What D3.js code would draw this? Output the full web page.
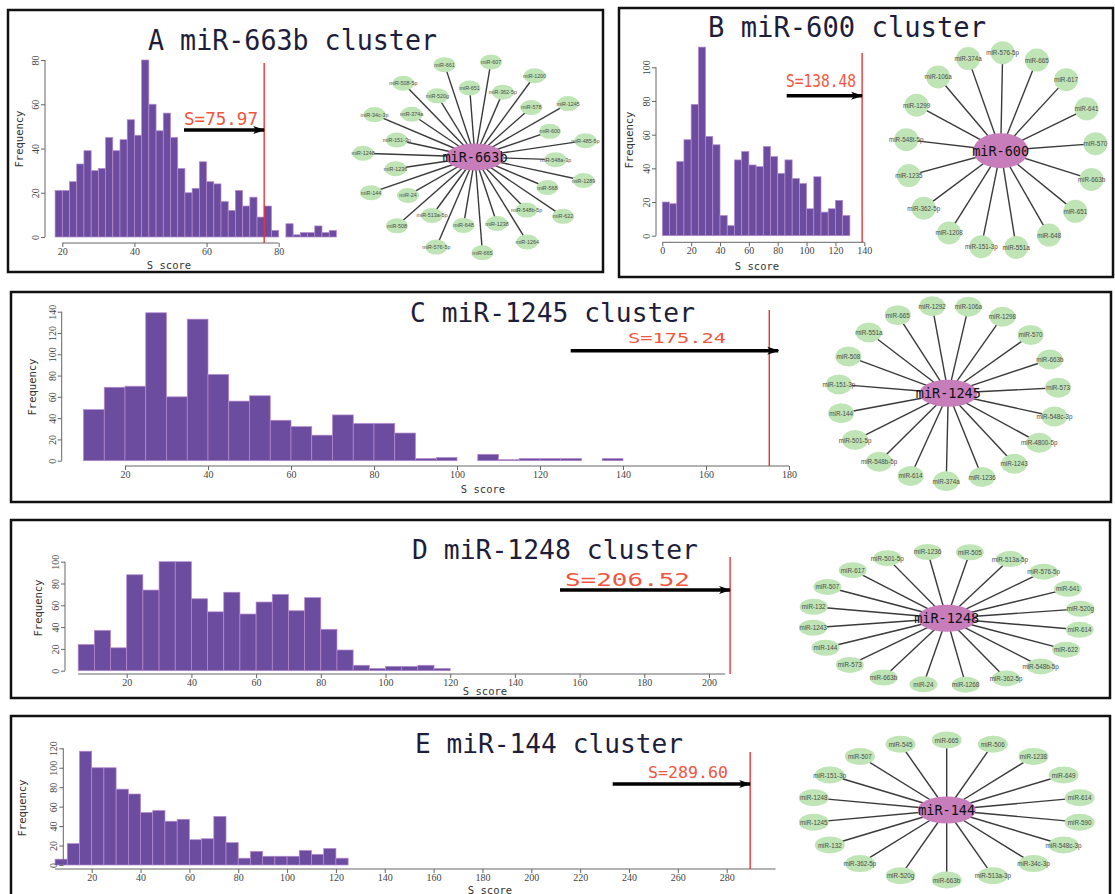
<!DOCTYPE html>
<html>
<head>
<meta charset="utf-8">
<script src="https://cdn.jsdelivr.net/npm/d3@7"></script>
<style>
  body { margin: 0; background: #fff; }
  svg { display: block; }
</style>
</head>
<body>
<div id="chart"></div>
<script>
// ---- data ----
// histogram counts, one value per bin
const countsA = [21, 21, 25, 33, 39, 30, 31, 45, 39, 44, 53, 46, 80, 60, 48, 56, 45, 31, 20, 22,
  34, 25, 24, 16, 12, 21, 14, 18, 9, 14, 3, 0, 6, 1, 2, 2, 5, 2, 3]
const countsB = [20, 19, 44, 57, 78, 112, 59, 54, 12, 6, 45, 50, 42, 41, 53, 47, 37, 45, 34, 31,
  16, 35, 14, 16, 21, 12]
const countsC = [48, 69, 70, 139, 60, 133, 81, 56, 61, 38, 32, 24, 43, 35, 35, 26, 2, 3, 0, 6,
  1, 2, 2, 2, 0, 2]
const countsD = [24, 37, 21, 88, 74, 100, 100, 66, 54, 72, 52, 63, 70, 55, 67, 38, 19, 5, 2, 4, 4, 5, 2]
const countsE = [6, 22, 117, 100, 100, 78, 73, 54, 56, 45, 47, 26, 27, 50, 23, 7, 14, 9, 9, 9, 15, 11, 17, 7]

// bin starts and widths
const binStarts = [18, 0, 10, 5, 5]
const binWidths = [2, 5, 5, 5, 5]

// observed S scores
const scores = [75.97, 138.48, 175.24, 206.52, 289.60]

// tick labels
const xTicksA = [20, 40, 60, 80]
const yTicksA = [0, 20, 40, 60, 80]
const xTicksB = [0, 20, 40, 60, 80, 100, 120, 140]
const yTicksB = [0, 20, 40, 60, 80, 100]
const xTicksC = [20, 40, 60, 80, 100, 120, 140, 160, 180]
const yTicksC = [0, 20, 40, 60, 80, 100, 120, 140]
const xTicksD = [20, 40, 60, 80, 100, 120, 140, 160, 180, 200]
const yTicksD = [0, 20, 40, 60, 80, 100]
const xTicksE = [20, 40, 60, 80, 100, 120, 140, 160, 180, 200, 220, 240, 260, 280]
const yTicksE = [0, 20, 40, 60, 80, 100, 120]

// cluster hubs and their partners (clockwise from the top)
const hubs = ['miR-663b', 'miR-600', 'miR-1245', 'miR-1248', 'miR-144']
const nodesA = ['miR-661', 'miR-651', 'miR-607', 'miR-362-5p', 'miR-1200', 'miR-578', 'miR-1245',
  'miR-600', 'miR-485-5p', 'miR-548a-3p', 'miR-1289', 'miR-568', 'miR-622', 'miR-548b-5p',
  'miR-1264', 'miR-1238', 'miR-665', 'miR-648', 'miR-576-5p', 'miR-513a-5p', 'miR-508',
  'miR-24', 'miR-144', 'miR-1236', 'miR-1248', 'miR-151-3p', 'miR-34c-3p', 'miR-374a',
  'miR-508-5p', 'miR-520g']
const nodesB = ['miR-374a', 'miR-576-5p', 'miR-665', 'miR-617', 'miR-641', 'miR-570', 'miR-663b',
  'miR-651', 'miR-648', 'miR-551a', 'miR-151-3p', 'miR-1208', 'miR-362-5p', 'miR-1235',
  'miR-548t-5p', 'miR-1299', 'miR-106a']
const nodesC = ['miR-1292', 'miR-106a', 'miR-1298', 'miR-570', 'miR-663b', 'miR-573', 'miR-548c-3p',
  'miR-4800-5p', 'miR-1243', 'miR-1236', 'miR-374a', 'miR-614', 'miR-548b-5p', 'miR-501-5p',
  'miR-144', 'miR-151-3p', 'miR-508', 'miR-551a', 'miR-665']
const nodesD = ['miR-505', 'miR-513a-5p', 'miR-576-5p', 'miR-641', 'miR-520g', 'miR-614', 'miR-622',
  'miR-548b-5p', 'miR-362-5p', 'miR-1268', 'miR-24', 'miR-663b', 'miR-573', 'miR-144',
  'miR-1243', 'miR-132', 'miR-507', 'miR-617', 'miR-501-5p', 'miR-1236']
const nodesE = ['miR-665', 'miR-506', 'miR-1238', 'miR-649', 'miR-614', 'miR-590', 'miR-548c-3p',
  'miR-34c-3p', 'miR-513a-3p', 'miR-663b', 'miR-520g', 'miR-362-5p', 'miR-132', 'miR-1245',
  'miR-1248', 'miR-151-3p', 'miR-507', 'miR-545']

// ---- layout ----
const W = 1115, H = 894
const barFill = '#6c4c9f'
const barEdge = '#b58bd0'
const red = '#e8262a'
const mono = '"DejaVu Sans Mono", monospace'

const panels = [
  { letter: 'A', counts: countsA, xTicks: xTicksA, yTicks: yTicksA, nodes: nodesA,
    frame: [8, 10, 595, 262],
    title: { x: 148, y: 50, len: 289, size: 28 },
    xDom: [20, 80], xRange: [62.3, 278.7], yDom: [0, 80], yRange: [237, 60],
    xAxisY: 243, yAxisX: 45, span: [20, 80],
    lineTop: 63, arrow: { x0: 184, y: 130, over: 0 }, lab: { x: 184, y: 125, size: 18, len: 74 },
    freq: [19, 139], score: [169, 269],
    net: { cx: 475, cy: 157, rx: 112, ry: 96, inner: 0.72, start: -15.8, nrx: 11, nry: 7.5, fs: 5.4 } },
  { letter: 'B', counts: countsB, xTicks: xTicksB, yTicks: yTicksB, nodes: nodesB,
    frame: [619, 8, 494, 269],
    title: { x: 708, y: 37, len: 278, size: 28 },
    xDom: [0, 140], xRange: [662.3, 864.3], yDom: [0, 100], yRange: [235.7, 67.3],
    xAxisY: 242.3, yAxisX: 656, span: [0, 140],
    lineTop: 53, arrow: { x0: 786.7, y: 95.7, over: 0 }, lab: { x: 786, y: 87, size: 17, len: 70 },
    freq: [629, 140], score: [757, 270],
    net: { cx: 1000.7, cy: 150.7, rx: 95, ry: 98, inner: 1, start: -20, nrx: 12, nry: 11.5, fs: 6.3 } },
  { letter: 'C', counts: countsC, xTicks: xTicksC, yTicks: yTicksC, nodes: nodesC,
    frame: [11, 292, 1100, 210],
    title: { x: 410, y: 322, len: 285, size: 27 },
    xDom: [20, 180], xRange: [125, 789], yDom: [0, 140], yRange: [460.7, 311.7],
    xAxisY: 466, yAxisX: 61.7, span: [20, 180],
    lineTop: 310, arrow: { x0: 570.7, y: 350.7, over: 9 }, lab: { x: 628, y: 343, size: 14, len: 98 },
    freq: [31.7, 387], score: [483, 493],
    net: { cx: 948.3, cy: 393.3, rx: 110, ry: 88, inner: 1, start: -8.4, nrx: 13, nry: 10, fs: 6.3 } },
  { letter: 'D', counts: countsD, xTicks: xTicksD, yTicks: yTicksD, nodes: nodesD,
    frame: [11, 520, 1099, 178],
    title: { x: 412, y: 559, len: 286, size: 27 },
    xDom: [20, 200], xRange: [126.7, 709], yDom: [0, 100], yRange: [670.7, 561.7],
    xAxisY: 674, yAxisX: 65, span: [5, 205],
    lineTop: 557, arrow: { x0: 560, y: 590, over: 0 }, lab: { x: 565, y: 586, size: 18, len: 125 },
    freq: [38, 608], score: [485, 695],
    net: { cx: 946.7, cy: 618.3, rx: 135, ry: 67, inner: 1, start: 9.9, nrx: 14, nry: 8, fs: 6.3 } },
  { letter: 'E', counts: countsE, xTicks: xTicksE, yTicks: yTicksE, nodes: nodesE,
    frame: [11, 716, 1099, 200],
    title: { x: 415, y: 753, len: 268, size: 27 },
    xDom: [20, 280], xRange: [91.7, 726.7], yDom: [0, 120], yRange: [865, 748.3],
    xAxisY: 869, yAxisX: 63.3, span: [5, 300],
    lineTop: 752, arrow: { x0: 612.7, y: 784, over: 0 }, lab: { x: 648, y: 778, size: 15, len: 80 },
    freq: [21.7, 808], score: [490, 893.5],
    net: { cx: 946.7, cy: 810, rx: 135, ry: 70, inner: 1, start: 0, nrx: 15, nry: 8.5, fs: 6.3 } },
]

const svg = d3.select('#chart').append('svg')
  .attr('width', W)
  .attr('height', H)

svg.append('rect').attr('width', W).attr('height', H).attr('fill', '#fff')

const defs = svg.append('defs')
defs.append('marker')
  .attr('id', 'arrow')
  .attr('markerUnits', 'userSpaceOnUse')
  .attr('viewBox', '0 0 12 10')
  .attr('refX', 11).attr('refY', 5)
  .attr('markerWidth', 12).attr('markerHeight', 10)
  .attr('orient', 'auto')
  .append('path')
  .attr('d', 'M0,1 L12,5 L0,9 L3,5 Z')
  .attr('fill', '#000')

function drawHist(g, p, i) {
  const x = d3.scaleLinear().domain(p.xDom).range(p.xRange)
  const y = d3.scaleLinear().domain(p.yDom).range(p.yRange)
  const start = binStarts[i], width = binWidths[i]
  const bins = p.counts.map((c, k) => ({ x0: start + k * width, x1: start + (k + 1) * width, c }))
    .filter(d => d.c > 0)

  g.append('g').selectAll('rect')
    .data(bins)
    .enter()
    .append('rect')
    .attr('x', d => x(d.x0))
    .attr('width', d => x(d.x1) - x(d.x0))
    .attr('y', d => y(d.c))
    .attr('height', d => y(0) - y(d.c))
    .attr('fill', barFill)
    .attr('stroke', barEdge)
    .attr('stroke-width', 0.7)

  // x axis, R style
  const xAxis = g.append('g')
    .attr('transform', `translate(0, ${p.xAxisY})`)
    .call(d3.axisBottom(x).tickValues(p.xTicks).tickSize(4).tickSizeOuter(0))
  xAxis.select('.domain').remove()
  xAxis.append('line')
    .attr('x1', x(p.span[0])).attr('x2', x(p.span[1]))
    .attr('stroke', '#666')
  xAxis.selectAll('.tick line').attr('stroke', '#666')
  xAxis.selectAll('.tick text')
    .attr('font-family', '"Liberation Serif", serif')
    .attr('font-size', 10)
    .attr('fill', '#444')
    .attr('y', 5)

  // y axis, rotated labels
  const yAxis = g.append('g')
    .attr('transform', `translate(${p.yAxisX}, 0)`)
    .call(d3.axisLeft(y).tickValues(p.yTicks).tickSize(4).tickSizeOuter(0))
  yAxis.select('.domain').remove()
  yAxis.append('line')
    .attr('y1', y(p.yTicks[0])).attr('y2', y(p.yTicks[p.yTicks.length - 1]))
    .attr('stroke', '#666')
  yAxis.selectAll('.tick line').attr('stroke', '#666')
  yAxis.selectAll('.tick text')
    .attr('font-family', '"Liberation Serif", serif')
    .attr('font-size', 10)
    .attr('fill', '#444')
    .attr('text-anchor', 'middle')
    .attr('transform', 'rotate(-90)')
    .attr('x', 0)
    .attr('y', -6)
    .attr('dy', 0)

  g.append('text')
    .attr('transform', `translate(${p.freq[0]}, ${p.freq[1]}) rotate(-90)`)
    .attr('text-anchor', 'middle')
    .attr('dominant-baseline', 'central')
    .attr('font-family', mono)
    .attr('font-size', 10.5)
    .attr('fill', '#333')
    .text('Frequency')

  g.append('text')
    .attr('x', p.score[0]).attr('y', p.score[1])
    .attr('text-anchor', 'middle')
    .attr('font-family', mono)
    .attr('font-size', 10.5)
    .attr('fill', '#333')
    .text('S score')

  // observed score
  const s = scores[i]
  g.append('line')
    .attr('x1', x(s)).attr('x2', x(s))
    .attr('y1', p.lineTop).attr('y2', p.xAxisY)
    .attr('stroke', red)
    .attr('stroke-width', 1.3)

  g.append('line')
    .attr('x1', p.arrow.x0).attr('x2', x(s) + p.arrow.over)
    .attr('y1', p.arrow.y).attr('y2', p.arrow.y)
    .attr('stroke', '#000')
    .attr('stroke-width', 3.5)
    .attr('marker-end', 'url(#arrow)')

  g.append('text')
    .attr('x', p.lab.x).attr('y', p.lab.y)
    .attr('font-family', mono)
    .attr('font-size', p.lab.size)
    .attr('fill', '#f2553e')
    .attr('textLength', p.lab.len)
    .attr('lengthAdjust', 'spacingAndGlyphs')
    .text('S=' + s.toFixed(2))
}

function drawNet(g, p, i) {
  const n = p.net
  const names = p.nodes
  const angle = d3.scalePoint()
    .domain(names)
    .range([n.start, n.start + 360 * (names.length - 1) / names.length])
  const pts = names.map((name, k) => {
    const t = angle(name) * Math.PI / 180
    const f = k % 2 ? n.inner : 1
    return { name, x: n.cx + n.rx * f * Math.sin(t), y: n.cy - n.ry * f * Math.cos(t) }
  })

  g.append('g').selectAll('line')
    .data(pts)
    .enter()
    .append('line')
    .attr('x1', n.cx).attr('y1', n.cy)
    .attr('x2', d => d.x).attr('y2', d => d.y)
    .attr('stroke', '#3a3a3a')
    .attr('stroke-width', 1.4)

  g.append('g').selectAll('ellipse')
    .data(pts)
    .enter()
    .append('ellipse')
    .attr('cx', d => d.x).attr('cy', d => d.y)
    .attr('rx', n.nrx).attr('ry', n.nry)
    .attr('fill', '#bfe5b6')

  g.append('g').selectAll('text')
    .data(pts)
    .enter()
    .append('text')
    .attr('x', d => d.x).attr('y', d => d.y)
    .attr('text-anchor', 'middle')
    .attr('dominant-baseline', 'central')
    .attr('font-family', '"Liberation Sans", Arial, sans-serif')
    .attr('font-size', n.fs)
    .attr('fill', '#4a4a4a')
    .text(d => d.name)

  g.append('ellipse')
    .attr('cx', n.cx).attr('cy', n.cy)
    .attr('rx', i === 1 ? 27.5 : 29).attr('ry', i === 1 ? 17.5 : 13.5)
    .attr('fill', '#c87dbb')

  g.append('text')
    .attr('x', n.cx).attr('y', n.cy)
    .attr('text-anchor', 'middle')
    .attr('dominant-baseline', 'central')
    .attr('font-family', mono)
    .attr('font-size', 13.5)
    .attr('fill', '#111')
    .text(hubs[i])
}

panels.forEach((p, i) => {
  const g = svg.append('g').attr('class', 'panel-' + p.letter)
  drawHist(g, p, i)
  drawNet(g, p, i)

  g.append('text')
    .attr('x', p.title.x).attr('y', p.title.y)
    .attr('font-family', mono)
    .attr('font-size', p.title.size)
    .attr('fill', '#1e1d3a')
    .attr('textLength', p.title.len)
    .attr('lengthAdjust', 'spacingAndGlyphs')
    .text(`${p.letter} ${hubs[i]} cluster`)

  g.append('rect')
    .attr('x', p.frame[0]).attr('y', p.frame[1])
    .attr('width', p.frame[2]).attr('height', p.frame[3])
    .attr('fill', 'none')
    .attr('stroke', '#111')
    .attr('stroke-width', 2.5)
})
</script>
</body>
</html>
